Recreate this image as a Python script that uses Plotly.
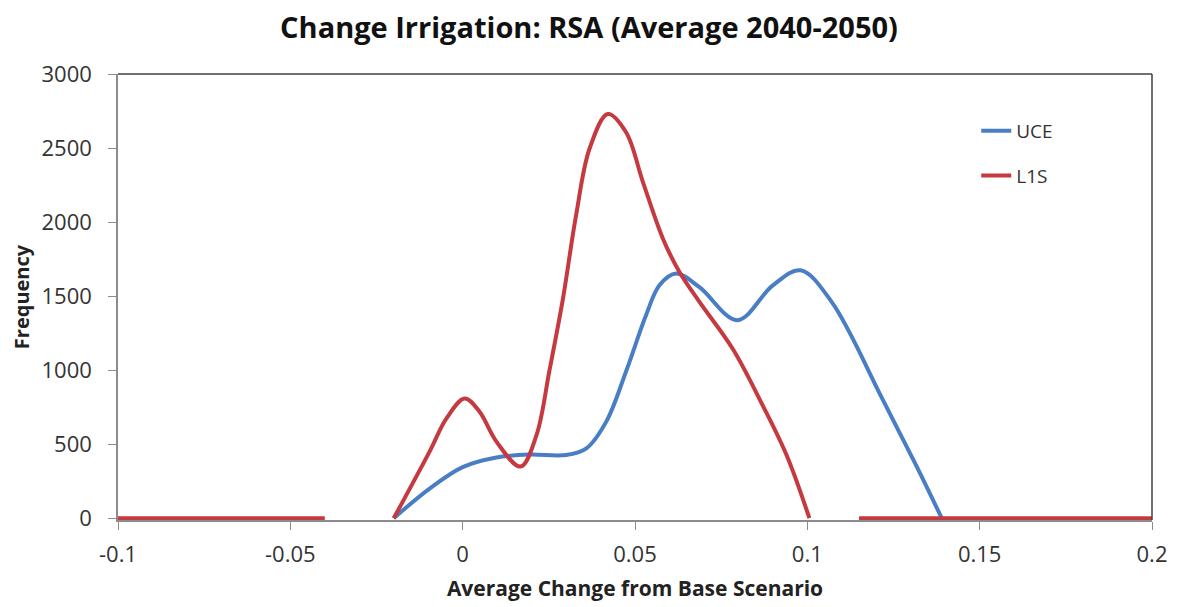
import plotly.graph_objects as go

# ---- data ----
uce_x = [-0.0200, -0.0096, 0.0, 0.0098, 0.0194, 0.030, 0.0359, 0.0417, 0.0474, 0.0532,
         0.0571, 0.0619, 0.0687, 0.0797, 0.0899, 0.098, 0.107, 0.1217, 0.1315, 0.1390]
uce_y = [0, 200, 345, 410, 430, 427, 472, 654, 991, 1371,
         1573, 1652, 1560, 1337, 1571, 1674, 1463, 809, 360, 0]

l1s_x = [-0.1, -0.04, None, -0.0200, -0.0096, -0.0047, 0.0006, 0.0049, 0.0098, 0.0168,
         0.0214, 0.0252, 0.0291, 0.0329, 0.0368, 0.0421, 0.0474, 0.0523, 0.0581, 0.0629,
         0.0687, 0.0783, 0.087, 0.094, 0.1006, None, 0.115, 0.2]
l1s_y = [0, 0, None, 0, 450, 674, 809, 719, 517, 349,
         560, 1000, 1483, 2045, 2495, 2730, 2607, 2270, 1888, 1663,
         1461, 1146, 764, 425, 0, None, 0, 0]

x_tickvals = [-0.1, -0.05, 0, 0.05, 0.1, 0.15, 0.2]
x_ticktext = ["-0.1", "-0.05", "0", "0.05", "0.1", "0.15", "0.2"]
y_tickvals = [0, 500, 1000, 1500, 2000, 2500, 3000]

BLUE = "#4A7EC4"
RED = "#C43A40"
FONT = "Open Sans"

fig = go.Figure()
fig.add_trace(go.Scatter(x=uce_x, y=uce_y, mode="lines", name="UCE",
                         line=dict(color=BLUE, width=4, shape="spline", smoothing=1.0),
                         legendgroup="a", connectgaps=False))
fig.add_trace(go.Scatter(x=l1s_x, y=l1s_y, mode="lines", name="L1S",
                         line=dict(color=RED, width=4, shape="spline", smoothing=1.0),
                         legendgroup="b", connectgaps=False))

# the page body has an 8px margin, so the figure is sized/offset accordingly
fig.update_layout(
    width=1170, height=599,
    margin=dict(l=110, r=26, t=66, b=87, autoexpand=False),
    paper_bgcolor="white", plot_bgcolor="white",
    font=dict(family=FONT, color="#404040"),
    title=dict(text="<b>Change Irrigation: RSA (Average 2040-2050)</b>",
               x=(589 - 8) / 1170, xanchor="center", y=1 - 20 / 599, yanchor="middle",
               yref="container", font=dict(size=29, color="#111111", family=FONT)),
    showlegend=True,
    legend=dict(x=0.830, y=0.915, xanchor="left", yanchor="top",
                bgcolor="rgba(0,0,0,0)", font=dict(size=19, color="#333333"),
                tracegroupgap=17),
    xaxis=dict(range=[-0.1, 0.2], tickvals=x_tickvals, ticktext=x_ticktext,
               automargin=False,
               showgrid=False, zeroline=False, showline=True, linecolor="#8C8C8C",
               linewidth=1.5, ticks="outside", ticklen=8, tickcolor="#8C8C8C",
               ticklabelstandoff=6,
               tickfont=dict(size=22, color="#333333"),
               title=dict(text="<b>Average Change from Base Scenario</b>",
                          font=dict(size=21, color="#222222"), standoff=14)),
    yaxis=dict(range=[-12, 3000], tickvals=y_tickvals,
               automargin=False,
               showgrid=False, zeroline=False, showline=True, linecolor="#8C8C8C",
               linewidth=1.5, ticks="outside", ticklen=8, tickcolor="#8C8C8C",
               ticklabelstandoff=12,
               tickfont=dict(size=22, color="#333333"),
               title=dict(text="<b>Frequency</b>",
                          font=dict(size=20, color="#222222"), standoff=10)),
    shapes=[
        dict(type="line", xref="paper", yref="paper", x0=0, x1=1, y0=1, y1=1,
             line=dict(color="#404040", width=1.5)),
        dict(type="line", xref="paper", yref="paper", x0=1, x1=1, y0=0, y1=1,
             line=dict(color="#404040", width=1.5)),
    ],
)

fig.write_html("out.html")
